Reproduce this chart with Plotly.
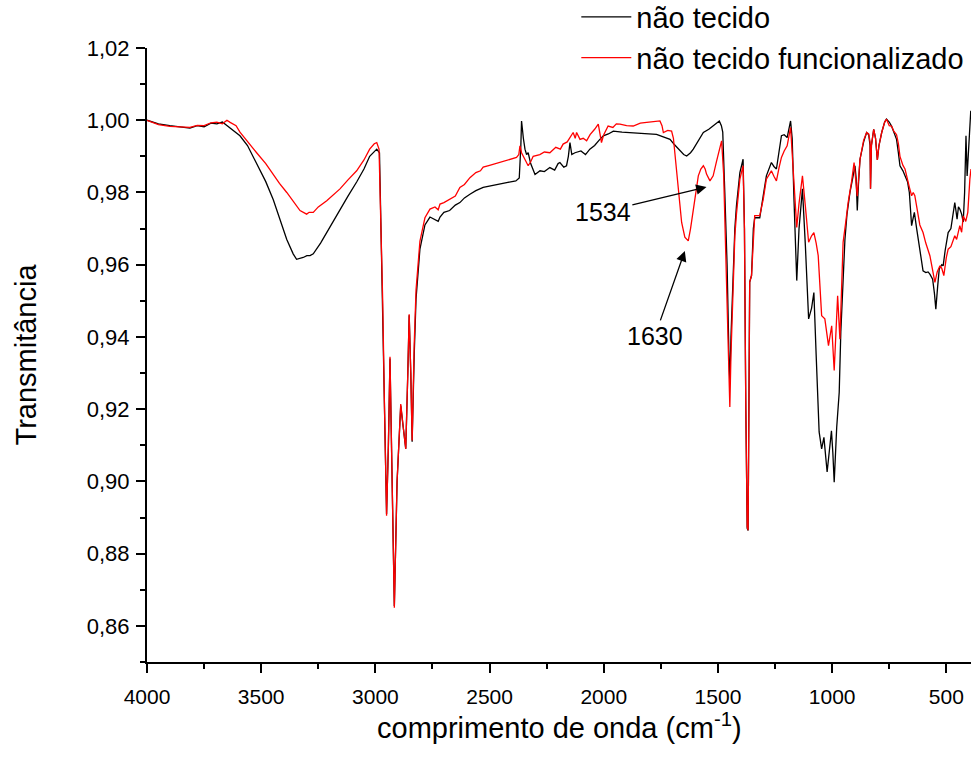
import plotly.graph_objects as go

# ---- data (wavenumber cm^-1, transmittance) ----
wn_nt = [4000, 3950, 3900, 3850, 3812, 3780, 3750, 3720, 3694, 3670, 3650, 3636, 3593, 3560, 3520,
         3480, 3447, 3420, 3388, 3360, 3345, 3316, 3300, 3286, 3272, 3240, 3213, 3180, 3155, 3120,
         3082, 3050, 3025, 3005, 2994, 2982, 2968, 2960, 2951, 2943, 2936, 2928, 2917, 2905, 2889,
         2878, 2867, 2858, 2852, 2845, 2839, 2830, 2822, 2805, 2783, 2761, 2739, 2725, 2717, 2700,
         2675, 2650, 2630, 2610, 2586, 2560, 2528, 2500, 2455, 2420, 2385, 2370, 2363, 2360, 2352,
         2345, 2338, 2331, 2320, 2301, 2279, 2260, 2236, 2215, 2200, 2192, 2175, 2163, 2155, 2148,
         2140, 2126, 2100, 2080, 2061, 2040, 2020, 2002, 1980, 1958, 1920, 1871, 1820, 1769, 1740,
         1710, 1690, 1667, 1650, 1637, 1620, 1608, 1585, 1564, 1540, 1521, 1505, 1494, 1485, 1479,
         1470, 1460, 1452, 1448, 1443, 1433, 1426, 1419, 1404, 1390, 1384, 1378, 1372, 1368, 1364,
         1361, 1353, 1345, 1339, 1317, 1302, 1288, 1266, 1255, 1244, 1232, 1222, 1210, 1197, 1182,
         1175, 1167, 1160, 1155, 1145, 1130, 1117, 1103, 1090, 1080, 1070, 1057, 1046, 1036, 1022,
         1010, 1003, 997, 991, 980, 969, 962, 952, 944, 935, 922, 910, 900, 895, 890,
         885, 878, 862, 849, 840, 834, 832, 828, 818, 810, 802, 795, 783, 770, 762,
         750, 740, 730, 718, 710, 703, 690, 681, 670, 662, 657, 652, 645, 640, 630,
         623, 616, 608, 602, 590, 580, 572, 560, 552, 546, 538, 531, 520, 514, 505,
         492, 480, 470, 463, 458, 453, 447, 441, 433, 426, 420, 414, 409, 400, 393]
t_nt = [1.0000, 0.9990, 0.9985, 0.9980, 0.9978, 0.9985, 0.9982, 0.9992, 0.9990, 0.9995, 0.9985, 0.9980, 0.9957, 0.9930, 0.9880,
        0.9830, 0.9780, 0.9730, 0.9670, 0.9630, 0.9615, 0.9620, 0.9625, 0.9625, 0.9630, 0.9660, 0.9690, 0.9725, 0.9754, 0.9790,
        0.9829, 0.9865, 0.9900, 0.9915, 0.9920, 0.9910, 0.9500, 0.9200, 0.8910, 0.9100, 0.9340, 0.9050, 0.8655, 0.9000, 0.9210,
        0.9150, 0.9090, 0.9300, 0.9460, 0.9300, 0.9110, 0.9350, 0.9505, 0.9643, 0.9710, 0.9732, 0.9726, 0.9720, 0.9732, 0.9745,
        0.9750, 0.9765, 0.9772, 0.9785, 0.9795, 0.9805, 0.9814, 0.9818, 0.9823, 0.9828, 0.9832, 0.9840, 0.9930, 0.9998, 0.9950,
        0.9920, 0.9905, 0.9910, 0.9880, 0.9850, 0.9860, 0.9858, 0.9869, 0.9862, 0.9880, 0.9883, 0.9870, 0.9874, 0.9900, 0.9938,
        0.9905, 0.9910, 0.9915, 0.9905, 0.9920, 0.9930, 0.9945, 0.9957, 0.9962, 0.9970, 0.9967, 0.9966, 0.9963, 0.9961, 0.9955,
        0.9947, 0.9932, 0.9915, 0.9905, 0.9901, 0.9910, 0.9920, 0.9945, 0.9966, 0.9975, 0.9984, 0.9992, 0.9998, 0.9985, 0.9967,
        0.9800, 0.9600, 0.9350, 0.9275, 0.9400, 0.9597, 0.9700, 0.9763, 0.9855, 0.9892, 0.9700, 0.9200, 0.8870, 0.8864, 0.9200,
        0.9552, 0.9570, 0.9700, 0.9730, 0.9730, 0.9790, 0.9846, 0.9883, 0.9872, 0.9865, 0.9920, 0.9957, 0.9960, 0.9952, 0.9998,
        0.9950, 0.9780, 0.9650, 0.9556, 0.9700, 0.9810, 0.9650, 0.9450, 0.9480, 0.9523, 0.9350, 0.9137, 0.9090, 0.9122, 0.9026,
        0.9100, 0.9140, 0.9080, 0.8998, 0.9150, 0.9247, 0.9414, 0.9550, 0.9670, 0.9740, 0.9800, 0.9840, 0.9874, 0.9840, 0.9750,
        0.9820, 0.9892, 0.9940, 0.9966, 0.9960, 0.9930, 0.9810, 0.9930, 0.9975, 0.9950, 0.9890, 0.9930, 0.9966, 0.9995, 1.0003,
        0.9995, 0.9984, 0.9965, 0.9947, 0.9910, 0.9874, 0.9860, 0.9846, 0.9830, 0.9800, 0.9750, 0.9708, 0.9730, 0.9745, 0.9700,
        0.9670, 0.9643, 0.9600, 0.9583, 0.9578, 0.9580, 0.9574, 0.9560, 0.9520, 0.9477, 0.9540, 0.9588, 0.9600, 0.9597, 0.9640,
        0.9689, 0.9700, 0.9740, 0.9772, 0.9750, 0.9726, 0.9760, 0.9754, 0.9740, 0.9718, 0.9800, 0.9957, 0.9846, 0.9950, 1.0026]

wn_ntf = [4000, 3950, 3900, 3850, 3812, 3780, 3750, 3720, 3694, 3670, 3650, 3636, 3610, 3593, 3560,
          3520, 3480, 3447, 3420, 3388, 3360, 3330, 3301, 3290, 3272, 3250, 3213, 3180, 3155, 3120,
          3082, 3050, 3025, 3005, 2994, 2984, 2968, 2960, 2951, 2943, 2936, 2928, 2917, 2905, 2889,
          2878, 2867, 2858, 2852, 2845, 2839, 2830, 2822, 2805, 2783, 2761, 2739, 2725, 2717, 2700,
          2675, 2650, 2630, 2610, 2586, 2560, 2540, 2528, 2500, 2455, 2420, 2382, 2372, 2367, 2360,
          2345, 2331, 2320, 2309, 2280, 2260, 2236, 2210, 2190, 2178, 2160, 2145, 2134, 2125, 2119,
          2104, 2090, 2075, 2060, 2040, 2024, 2016, 2010, 2000, 1981, 1960, 1945, 1929, 1900, 1871,
          1840, 1812, 1780, 1754, 1745, 1739, 1720, 1703, 1695, 1690, 1682, 1674, 1659, 1645, 1636,
          1630, 1620, 1608, 1596, 1586, 1575, 1564, 1556, 1550, 1535, 1521, 1506, 1492, 1484, 1475,
          1465, 1455, 1448, 1443, 1433, 1426, 1419, 1404, 1390, 1384, 1378, 1372, 1368, 1364, 1361,
          1353, 1345, 1339, 1317, 1302, 1288, 1266, 1255, 1244, 1232, 1222, 1210, 1197, 1182, 1175,
          1167, 1160, 1155, 1145, 1130, 1117, 1103, 1090, 1080, 1070, 1061, 1046, 1032, 1016, 1002,
          991, 976, 966, 952, 940, 930, 915, 904, 890, 878, 862, 849, 840, 834, 832,
          828, 818, 810, 802, 795, 783, 770, 762, 750, 740, 730, 718, 710, 703, 690,
          681, 670, 662, 652, 645, 638, 630, 623, 616, 602, 590, 572, 560, 550, 540,
          528, 520, 511, 500, 492, 480, 463, 455, 441, 433, 426, 415, 406, 397, 392]
t_ntf = [1.0000, 0.9988, 0.9983, 0.9982, 0.9980, 0.9986, 0.9985, 0.9993, 0.9995, 0.9990, 1.0000, 0.9994, 0.9985, 0.9967, 0.9940,
         0.9910, 0.9880, 0.9850, 0.9825, 0.9800, 0.9775, 0.9750, 0.9740, 0.9745, 0.9745, 0.9760, 0.9777, 0.9795, 0.9810, 0.9835,
         0.9860, 0.9890, 0.9920, 0.9935, 0.9938, 0.9920, 0.9500, 0.9200, 0.8905, 0.9100, 0.9345, 0.9050, 0.8650, 0.9000, 0.9214,
         0.9150, 0.9090, 0.9300, 0.9463, 0.9300, 0.9113, 0.9380, 0.9530, 0.9665, 0.9730, 0.9754, 0.9760, 0.9752, 0.9768, 0.9772,
         0.9780, 0.9790, 0.9814, 0.9822, 0.9841, 0.9855, 0.9860, 0.9870, 0.9875, 0.9883, 0.9890, 0.9897, 0.9905, 0.9929, 0.9910,
         0.9890, 0.9874, 0.9885, 0.9900, 0.9905, 0.9912, 0.9910, 0.9925, 0.9920, 0.9934, 0.9940, 0.9955, 0.9966, 0.9950, 0.9966,
         0.9947, 0.9950, 0.9943, 0.9960, 0.9975, 0.9989, 0.9960, 0.9938, 0.9960, 0.9984, 0.9980, 0.9990, 0.9989, 0.9985, 0.9984,
         0.9992, 0.9994, 0.9996, 0.9998, 0.9985, 0.9966, 0.9972, 0.9970, 0.9950, 0.9920, 0.9870, 0.9818, 0.9717, 0.9676, 0.9668,
         0.9666, 0.9700, 0.9754, 0.9810, 0.9846, 0.9865, 0.9874, 0.9865, 0.9851, 0.9832, 0.9846, 0.9887, 0.9929, 0.9943, 0.9850,
         0.9600, 0.9350, 0.9206, 0.9350, 0.9570, 0.9680, 0.9740, 0.9837, 0.9874, 0.9700, 0.9200, 0.8875, 0.8865, 0.9200, 0.9552,
         0.9570, 0.9690, 0.9736, 0.9736, 0.9780, 0.9837, 0.9860, 0.9845, 0.9832, 0.9870, 0.9897, 0.9915, 0.9929, 0.9980, 0.9900,
         0.9829, 0.9750, 0.9703, 0.9770, 0.9846, 0.9760, 0.9662, 0.9680, 0.9689, 0.9660, 0.9625, 0.9459, 0.9450, 0.9376, 0.9431,
         0.9307, 0.9514, 0.9394, 0.9662, 0.9720, 0.9772, 0.9830, 0.9883, 0.9790, 0.9892, 0.9945, 0.9966, 0.9962, 0.9940, 0.9810,
         0.9930, 0.9975, 0.9950, 0.9890, 0.9930, 0.9966, 0.9995, 1.0003, 0.9985, 0.9984, 0.9970, 0.9960, 0.9935, 0.9900, 0.9875,
         0.9865, 0.9830, 0.9815, 0.9791, 0.9800, 0.9791, 0.9760, 0.9735, 0.9710, 0.9689, 0.9660, 0.9625, 0.9590, 0.9551, 0.9580,
         0.9597, 0.9590, 0.9570, 0.9620, 0.9643, 0.9650, 0.9680, 0.9670, 0.9708, 0.9690, 0.9735, 0.9720, 0.9745, 0.9837, 0.9865]

series_names = ["não tecido", "não tecido funcionalizado"]
y_ticks = [0.86, 0.88, 0.90, 0.92, 0.94, 0.96, 0.98, 1.00, 1.02]
y_tick_labels = ["0,86", "0,88", "0,90", "0,92", "0,94", "0,96", "0,98", "1,00", "1,02"]
x_ticks = [4000, 3500, 3000, 2500, 2000, 1500, 1000, 500]
x_tick_labels = ["4000", "3500", "3000", "2500", "2000", "1500", "1000", "500"]
x_title = "comprimento de onda (cm<sup>-1</sup>)"
y_title = "Transmitância"
peak_labels = ["1534", "1630"]
peak_pos = [(1550, 0.9815), (1645, 0.9638)]
peak_text_pos = [(2004, 0.9746), (1776, 0.9403)]

FONT = "Liberation Sans, Arial, sans-serif"

fig = go.Figure()
fig.add_trace(go.Scatter(x=wn_nt, y=t_nt, mode="lines", name=series_names[0],
                         line=dict(color="#000000", width=1.3)))
fig.add_trace(go.Scatter(x=wn_ntf, y=t_ntf, mode="lines", name=series_names[1],
                         line=dict(color="#ff0000", width=1.3)))

for lab, (px, py), (tx, ty) in zip(peak_labels, peak_pos, peak_text_pos):
    fig.add_annotation(x=px, y=py, ax=tx, ay=ty, axref="x", ayref="y", xref="x", yref="y",
                       text=lab, showarrow=True, arrowhead=2, arrowsize=1.6, arrowwidth=1.3,
                       arrowcolor="#000000", font=dict(family=FONT, size=25, color="#000000"))

# x-axis title placed as a paper annotation under the tick labels
fig.add_annotation(x=0.5, y=-0.104, xref="paper", yref="paper", xanchor="center", yanchor="middle",
                   text=x_title, showarrow=False, font=dict(family=FONT, size=29, color="#000000"))

fig.update_layout(
    width=973, height=760,
    margin=dict(l=147, r=2, t=48, b=98, autoexpand=False),
    paper_bgcolor="white", plot_bgcolor="white",
    font=dict(family=FONT, color="#000000"),
    showlegend=True,
    legend=dict(x=0.521, y=1.092, xanchor="left", yanchor="top",
                bgcolor="rgba(0,0,0,0)", font=dict(size=29, family=FONT),
                itemwidth=50, tracegroupgap=0),
)
fig.update_xaxes(
    range=[4000, 392], showgrid=False, zeroline=False, automargin=False,
    showline=True, linecolor="#000000", linewidth=2,
    tickmode="array", tickvals=x_ticks, ticktext=x_tick_labels,
    ticks="outside", ticklen=9, tickwidth=2, tickcolor="#000000",
    tickfont=dict(size=21, family=FONT), ticklabelstandoff=6,
    minor=dict(ticks="outside", ticklen=5, tickwidth=2, tickcolor="#000000", dtick=250, tick0=0),
)
fig.update_yaxes(
    range=[0.85, 1.02], showgrid=False, zeroline=False, automargin=False,
    showline=True, linecolor="#000000", linewidth=2,
    tickmode="array", tickvals=y_ticks, ticktext=y_tick_labels,
    ticks="outside", ticklen=9, tickwidth=2, tickcolor="#000000",
    tickfont=dict(size=22, family=FONT), ticklabelstandoff=2,
    minor=dict(ticks="outside", ticklen=5, tickwidth=2, tickcolor="#000000", dtick=0.01, tick0=0.85),
    title=dict(text=y_title, font=dict(size=29, family=FONT), standoff=42),
)

# remove the browser's default 8px body margin so the 973x760 figure fills the window exactly
fig.write_html("out.html", config={"displayModeBar": False},
               post_script="document.body.style.margin='0';document.body.style.overflow='hidden';")
